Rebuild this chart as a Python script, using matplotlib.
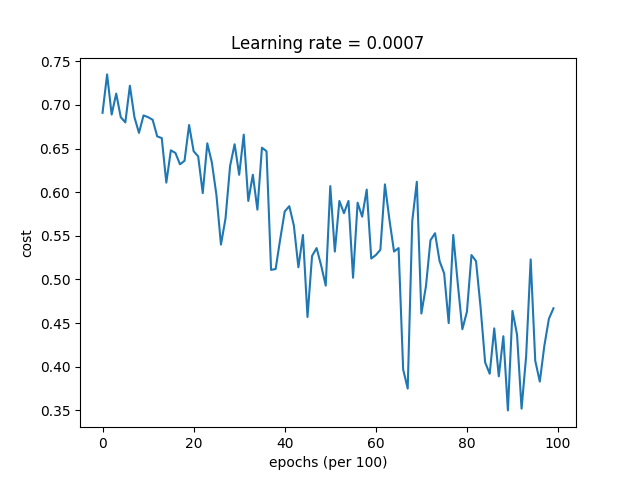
import matplotlib
matplotlib.use("Agg")
import matplotlib.pyplot as plt
import numpy as np

# cost, one value per 100 epochs
costs = [0.691, 0.735, 0.689, 0.713, 0.686, 0.680, 0.722, 0.686, 0.668, 0.688,
         0.686, 0.683, 0.664, 0.662, 0.611, 0.648, 0.645, 0.632, 0.636, 0.677,
         0.647, 0.641, 0.599, 0.656, 0.634, 0.597, 0.540, 0.570, 0.630, 0.655,
         0.620, 0.666, 0.590, 0.620, 0.580, 0.651, 0.647, 0.511, 0.512, 0.546,
         0.578, 0.584, 0.562, 0.514, 0.551, 0.457, 0.527, 0.536, 0.516, 0.493,
         0.607, 0.532, 0.590, 0.576, 0.590, 0.502, 0.588, 0.572, 0.603, 0.524,
         0.528, 0.534, 0.609, 0.568, 0.532, 0.536, 0.397, 0.375, 0.567, 0.612,
         0.461, 0.492, 0.545, 0.553, 0.521, 0.507, 0.450, 0.551, 0.495, 0.443,
         0.463, 0.528, 0.521, 0.468, 0.405, 0.392, 0.444, 0.389, 0.435, 0.350,
         0.464, 0.437, 0.352, 0.412, 0.523, 0.407, 0.383, 0.424, 0.455, 0.467]
learning_rate = 0.0007

fig = plt.figure(figsize=(6.4, 4.8), dpi=100)
plt.plot(np.squeeze(costs))
plt.ylabel('cost')
plt.xlabel('epochs (per 100)')
plt.title("Learning rate = " + str(learning_rate))
fig.savefig('out.png')
